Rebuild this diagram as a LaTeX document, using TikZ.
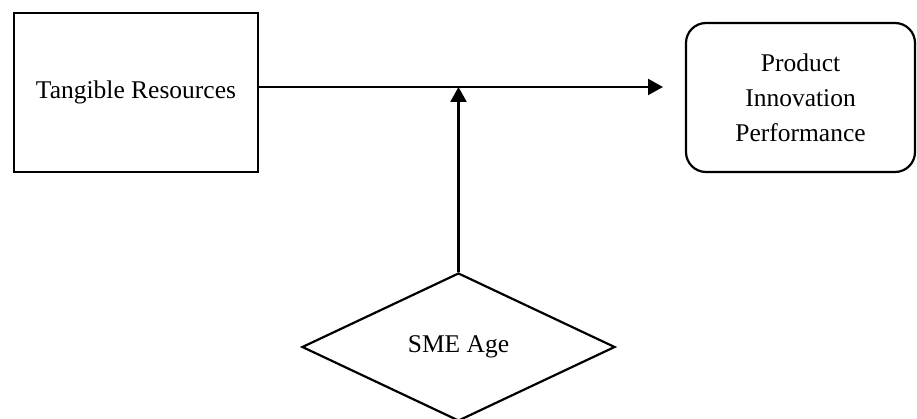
\documentclass[tikz,border=0pt]{standalone}
\usepackage{fontspec}
\setmainfont{Liberation Serif}
\usetikzlibrary{arrows.meta,shapes.geometric}
\begin{document}
\begin{tikzpicture}[x=1pt,y=-1pt,
  every node/.style={font=\fontsize{25.5}{35}\selectfont, line width=2.2pt, inner sep=0pt},
  conn/.style={line width=2.2pt, -{Triangle[length=15pt,width=16pt]}}]
\useasboundingbox (0,0) rectangle (917,419);
\node[draw, minimum width=244pt, minimum height=159pt] (tr) at (136,92.5) {Tangible Resources};
\node[draw, rounded corners=20pt, minimum width=229pt, minimum height=149pt, align=center] (pip) at (800.5,97.5) {Product\\Innovation\\Performance};
\node[draw, shape=diamond, minimum width=313pt, minimum height=148pt] (age) at (458.5,347) {SME Age};
\coordinate (end) at (663,87);
\coordinate (mid) at (458.5,87);
\draw[conn] (tr.east |- end) -- (end);
\draw[conn] (age.north) -- (mid);
\end{tikzpicture}
\end{document}
